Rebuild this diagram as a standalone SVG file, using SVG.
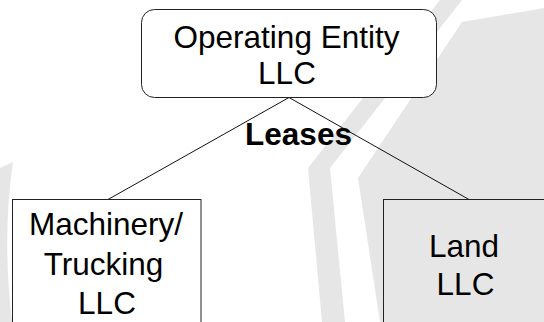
<svg xmlns="http://www.w3.org/2000/svg" width="544" height="322" viewBox="0 0 544 322">
  <style>
    .wm { fill: #e6e6e6; stroke: none; }
    .box { stroke: #222; stroke-width: 1; }
    .lbl { font-family: "Liberation Sans", Arial, sans-serif; font-size: 31.5px; fill: #000; text-anchor: middle; }
    .bold { font-weight: bold; }
    .conn { stroke: #111; stroke-width: 1; fill: none; }
  </style>
  <rect x="0" y="0" width="544" height="322" fill="#fff"/>
  <g id="watermark">
    <path class="wm" d="M0,168 L13,162 Q2,235 12,322 L0,322 Z"/>
    <path class="wm" d="M440,0 L462,0 L330,168 L345,322 L322,322 L308,168 Z"/>
    <path class="wm" d="M462,22 L544,8 L544,322 L380,322 L358,178 Z"/>
  </g>
  <g id="connectors">
    <line class="conn" x1="289" y1="97.5" x2="108" y2="199.5"/>
    <line class="conn" x1="289" y1="97.5" x2="469" y2="199.5"/>
  </g>
  <g id="leases-label">
    <text class="lbl bold" x="298.5" y="145">Leases</text>
  </g>
  <g id="operating-entity">
    <rect class="box" x="141.5" y="9.5" width="295" height="88" rx="13" ry="13" fill="#fff"/>
    <text class="lbl" x="286.5" y="47.5">Operating Entity</text>
    <text class="lbl" x="287" y="84">LLC</text>
  </g>
  <g id="machinery">
    <rect class="box" x="12.5" y="199.5" width="188.5" height="140" fill="#fff"/>
    <text class="lbl" x="106" y="235">Machinery/</text>
    <text class="lbl" x="103.5" y="275">Trucking</text>
    <text class="lbl" x="107" y="314">LLC</text>
  </g>
  <g id="land">
    <rect class="box" x="383.5" y="199.5" width="180" height="140" fill="#e6e6e6"/>
    <text class="lbl" x="464" y="256.5">Land</text>
    <text class="lbl" x="465.5" y="295">LLC</text>
  </g>
</svg>
